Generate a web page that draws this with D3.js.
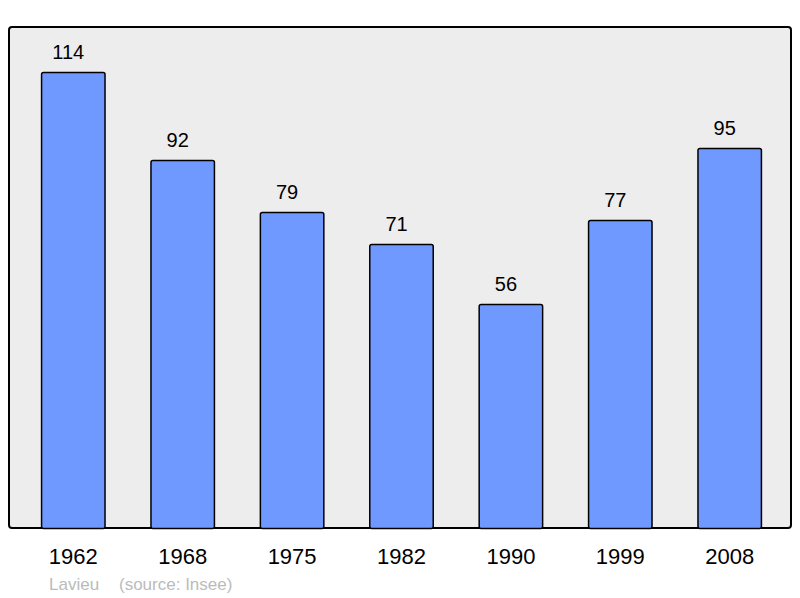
<!DOCTYPE html>
<html>
<head>
<meta charset="utf-8">
<script src="https://cdn.jsdelivr.net/npm/d3@7"></script>
<style>
  body { margin: 0; background: #fff; }
  svg { display: block; font-family: "Liberation Sans", Arial, sans-serif; }
</style>
</head>
<body>
<div id="chart"></div>
<script>
// population by census year
const years = ["1962", "1968", "1975", "1982", "1990", "1999", "2008"];
const population = [114, 92, 79, 71, 56, 77, 95];
const commune = "Lavieu";
const source = "(source: Insee)";

const width = 800, height = 598;

const svg = d3.select("#chart")
  .append("svg")
  .attr("width", width)
  .attr("height", height);

// plot frame
svg.append("rect")
  .attr("x", 9)
  .attr("y", 27)
  .attr("width", 782)
  .attr("height", 501)
  .attr("rx", 3)
  .attr("fill", "#ededed")
  .attr("stroke", "#000")
  .attr("stroke-width", 2);

const x = d3.scaleBand()
  .domain(years)
  .range([18.6, 784.4])
  .paddingInner(0.42)
  .paddingOuter(0.21);

const y = d3.scaleLinear()
  .domain([0, 125])
  .range([528.5, 28.5]);

const data = years.map((yr, i) => ({ year: yr, value: population[i] }));

svg.append("g")
  .selectAll("rect")
  .data(data)
  .enter()
  .append("rect")
  .attr("x", d => x(d.year))
  .attr("y", d => y(d.value))
  .attr("width", x.bandwidth())
  .attr("height", d => y(0) - y(d.value))
  .attr("rx", 2)
  .attr("fill", "#7099ff")
  .attr("stroke", "#000")
  .attr("stroke-width", 1.5);

// value labels
svg.append("g")
  .selectAll("text")
  .data(data)
  .enter()
  .append("text")
  .attr("x", d => x(d.year) + x.bandwidth() / 2 - 5)
  .attr("y", d => y(d.value) - 14)
  .attr("text-anchor", "middle")
  .attr("font-size", "20px")
  .attr("fill", "#000")
  .text(d => d.value);

// year axis labels
const axis = d3.axisBottom(x).tickSize(0).tickPadding(0);
const gx = svg.append("g")
  .attr("transform", "translate(0,548)")
  .call(axis);
gx.select(".domain").remove();
gx.selectAll("text")
  .attr("font-size", "22px")
  .attr("font-family", "Liberation Sans, Arial, sans-serif")
  .attr("fill", "#000")
  .attr("dy", "0.71em")
  .attr("y", 0);

// footer
svg.append("text")
  .attr("x", 49)
  .attr("y", 590)
  .attr("font-size", "17px")
  .attr("fill", "#bbb")
  .text(commune);
svg.append("text")
  .attr("x", 119)
  .attr("y", 590)
  .attr("font-size", "17px")
  .attr("fill", "#bbb")
  .text(source);
</script>
</body>
</html>
